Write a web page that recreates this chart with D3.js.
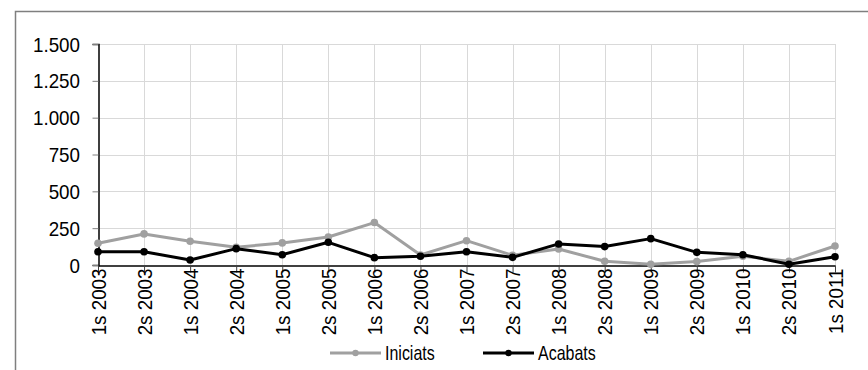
<!DOCTYPE html>
<html>
<head>
<meta charset="utf-8">
<script src="https://cdn.jsdelivr.net/npm/d3@7"></script>
<style>
  html, body { margin: 0; padding: 0; background: #fff; }
  svg { display: block; }
  text { font-family: "Liberation Sans", Arial, sans-serif; }
</style>
</head>
<body>
<svg id="chart" width="868" height="370"></svg>
<script>
// Half-year periods (semesters)
const periods = [
  "1s 2003", "2s 2003", "1s 2004", "2s 2004", "1s 2005", "2s 2005",
  "1s 2006", "2s 2006", "1s 2007", "2s 2007", "1s 2008", "2s 2008",
  "1s 2009", "2s 2009", "1s 2010", "2s 2010", "1s 2011"
];
// Started
const iniciats = [148, 211, 161, 120, 150, 190, 288, 68, 165, 66, 109, 25, 5, 23, 59, 25, 129];
// Finished
const acabats  = [90, 90, 34, 111, 70, 154, 50, 59, 90, 52, 143, 125, 179, 86, 70, 5, 56];
// Value axis ticks
const yTicks = [0, 250, 500, 750, 1000, 1250, 1500];

const seriesList = [
  { name: "Iniciats", values: iniciats, color: "#a0a0a0" },
  { name: "Acabats",  values: acabats,  color: "#000000" }
];

const svg = d3.select("#chart");
const W = 868, H = 370;
const plot = { left: 98, right: 835, top: 44, bottom: 265 };

// Condensed look for the labels
const TICK_FS = 20, TICK_SX = 0.94;
const LEG_FS = 20.5, LEG_SX = 0.78;

// Outer frame
svg.append("path")
  .attr("d", `M15.5,${H} L15.5,11.5 L${W},11.5`)
  .attr("fill", "none")
  .attr("stroke", "#7f7f7f")
  .attr("stroke-width", 1.5);

const x = d3.scalePoint().domain(periods).range([plot.left, plot.right]);
const y = d3.scaleLinear().domain([0, 1500]).range([plot.bottom, plot.top]);

const fmt = v => d3.format(",")(v).replace(/,/g, ".");

// Gridlines
const grid = svg.append("g");
grid.selectAll("line.h").data(yTicks.filter(d => d > 0)).join("line")
  .attr("x1", plot.left).attr("x2", plot.right)
  .attr("y1", d => Math.round(y(d)) + 0.5).attr("y2", d => Math.round(y(d)) + 0.5)
  .attr("stroke", "#d9d9d9").attr("stroke-width", 1);
grid.selectAll("line.v").data(periods.slice(1)).join("line")
  .attr("x1", d => Math.round(x(d)) + 0.5).attr("x2", d => Math.round(x(d)) + 0.5)
  .attr("y1", plot.top).attr("y2", plot.bottom)
  .attr("stroke", "#d9d9d9").attr("stroke-width", 1);

// Y axis
const yAxis = svg.append("g")
  .attr("transform", `translate(${plot.left + 0.5},0)`)
  .call(d3.axisLeft(y).tickValues(yTicks).tickFormat(fmt).tickSize(6));
yAxis.select(".domain").attr("stroke", "#000").attr("stroke-width", 1.5);
yAxis.selectAll(".tick line").attr("stroke", "#808080");
yAxis.selectAll(".tick text")
  .attr("font-size", TICK_FS).attr("fill", "#000")
  .attr("text-anchor", "end")
  .attr("x", -18.5 / TICK_SX)
  .attr("dy", "0.35em")
  .attr("transform", `scale(${TICK_SX},1)`);

// X axis
const xAxis = svg.append("g")
  .attr("transform", `translate(0,${plot.bottom + 0.5})`)
  .call(d3.axisBottom(x).tickSize(7).tickSizeOuter(0).tickPadding(0));
xAxis.select(".domain").attr("stroke", "#000").attr("stroke-width", 1.5);
xAxis.selectAll(".tick line").attr("stroke", "#404040");
xAxis.selectAll(".tick text")
  .attr("font-size", TICK_FS).attr("fill", "#000")
  .attr("text-anchor", "end")
  .attr("dy", "0.35em")
  .attr("x", 0).attr("y", 0)
  .attr("transform", `translate(0,3) rotate(-90) scale(${TICK_SX},1)`);

// Series lines and markers
const line = d3.line().x((d, i) => x(periods[i])).y(d => y(d));
seriesList.forEach(s => {
  const g = svg.append("g");
  g.append("path").datum(s.values)
    .attr("d", line).attr("fill", "none")
    .attr("stroke", s.color).attr("stroke-width", 3)
    .attr("stroke-linejoin", "round");
  g.selectAll("circle").data(s.values).join("circle")
    .attr("cx", (d, i) => x(periods[i])).attr("cy", d => y(d))
    .attr("r", 3.8).attr("fill", s.color);
});

// Legend
const legendItems = [
  { s: seriesList[0], x0: 330 },
  { s: seriesList[1], x0: 483 }
];
const ly = 353;
legendItems.forEach(({ s, x0 }) => {
  const g = svg.append("g");
  g.append("line").attr("x1", x0).attr("x2", x0 + 51).attr("y1", ly).attr("y2", ly)
    .attr("stroke", s.color).attr("stroke-width", 3);
  g.append("circle").attr("cx", x0 + 25.5).attr("cy", ly).attr("r", 3.2).attr("fill", s.color);
  g.append("text")
    .attr("transform", `translate(${x0 + 55},${ly}) scale(${LEG_SX},1)`)
    .attr("dy", "0.35em")
    .attr("font-size", LEG_FS).attr("fill", "#000").text(s.name);
});
</script>
</body>
</html>
